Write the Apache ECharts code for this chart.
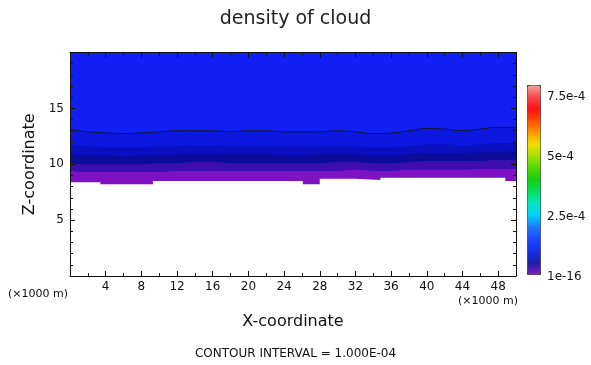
<!DOCTYPE html>
<html>
<head>
<meta charset="utf-8">
<style>
    html, body { margin: 0; padding: 0; background: #fff; }
    #cloudChart { width: 591px; height: 365px; }
</style>
</head>
<body>
<div id="cloudChart"></div>
<script src="https://cdn.jsdelivr.net/npm/echarts@6/dist/echarts.min.js"></script>
<script>
    // x positions of the sampled boundaries (x1000 m)
    var xs = [0, 2, 4, 6, 8, 10, 12, 14, 16, 18, 20, 22, 24, 26, 28, 30, 32, 34, 36, 38, 40, 42, 44, 46, 48, 50]
    // height (x1000 m) of the 1e-4 contour line
    var contourLine = [13.1, 12.9, 12.8, 12.75, 12.8, 12.9, 13.0, 13.0, 13.0, 12.9, 13.0, 13.0, 12.9, 12.9, 12.9, 13.0, 12.9, 12.75, 12.8, 13.0, 13.2, 13.15, 13.0, 13.15, 13.3, 13.3]
    // colour band edges below the contour line
    var edgeB = [11.7, 11.6, 11.5, 11.5, 11.5, 11.6, 11.6, 11.7, 11.7, 11.6, 11.6, 11.6, 11.6, 11.6, 11.6, 11.6, 11.6, 11.5, 11.5, 11.6, 11.8, 11.8, 11.7, 11.8, 11.9, 11.9]
    var edgeC = [10.9, 10.8, 10.8, 10.7, 10.8, 10.8, 10.9, 10.9, 10.9, 10.9, 10.9, 10.9, 10.8, 10.8, 10.9, 10.9, 10.9, 10.8, 10.8, 10.9, 11.0, 11.0, 11.0, 11.1, 11.1, 11.2]
    var edgeD = [10.1, 10.0, 10.0, 10.0, 10.0, 10.1, 10.1, 10.2, 10.2, 10.1, 10.1, 10.1, 10.1, 10.1, 10.1, 10.2, 10.2, 10.1, 10.1, 10.2, 10.3, 10.3, 10.3, 10.3, 10.4, 10.4]
    var edgeE = [9.4, 9.3, 9.3, 9.3, 9.3, 9.3, 9.4, 9.4, 9.4, 9.4, 9.4, 9.4, 9.4, 9.4, 9.4, 9.4, 9.5, 9.4, 9.4, 9.5, 9.5, 9.5, 9.5, 9.6, 9.6, 9.6]
    // cloud base (below it the density is under 1e-16)
    var baseX = [0, 3.4, 3.4, 9.3, 9.3, 26.1, 26.1, 28, 28, 32, 32, 34.8, 34.8, 48.8, 48.8, 50]
    var baseZ = [8.4, 8.4, 8.2, 8.2, 8.5, 8.5, 8.2, 8.2, 8.7, 8.7, 8.6, 8.6, 8.8, 8.8, 8.5, 8.5]
    // colour bar
    var cbTicks = ['1e-16', '2.5e-4', '5e-4', '7.5e-4']
    var cbColors = ['#7e1cc4', '#1c1ca8', '#1430e8', '#1e48ff', '#1e78ff', '#00d0ff', '#00e8c0', '#00e060',
        '#10d010', '#50d800', '#a0e000', '#f0e000', '#ff9a00', '#ff5000', '#ff1010', '#f84848', '#f4a0a0']

    var font = 'DejaVu Sans'

    function band (xArr, zArr, color, isContour, smooth) {
        return {
            type: 'line',
            xAxisIndex: 0,
            yAxisIndex: 0,
            data: xArr.map(function (x, i) { return [x, zArr[i]] }),
            symbol: 'none',
            smooth: smooth,
            silent: true,
            lineStyle: isContour ? { color: '#141438', width: 1 } : { opacity: 0 },
            areaStyle: { origin: 'end', color: color, opacity: 1 }
        }
    }

    var axisCommon = {
        type: 'value',
        z: 5,
        axisLine: { show: true, onZero: false, lineStyle: { color: '#111', width: 1 } },
        axisTick: { show: true, inside: true, length: 5, lineStyle: { color: '#111' } },
        minorTick: { show: true, length: 3, lineStyle: { color: '#111' } },
        splitLine: { show: false },
        minorSplitLine: { show: false }
    }

    function xAx (pos, labels) {
        return Object.assign({}, axisCommon, {
            gridIndex: 0, position: pos, min: 0, max: 50, interval: 4,
            minorTick: Object.assign({}, axisCommon.minorTick, { splitNumber: 2 }),
            axisLabel: { show: labels, showMinLabel: false, showMaxLabel: false, margin: 5, color: '#111', fontFamily: font, fontSize: 12 },
            name: labels ? 'X-coordinate' : '',
            nameLocation: 'middle', nameGap: 38,
            nameTextStyle: { color: '#111', fontFamily: font, fontSize: 16 }
        })
    }

    function yAx (pos, labels) {
        return Object.assign({}, axisCommon, {
            gridIndex: 0, position: pos, min: 0, max: 20, interval: 5,
            minorTick: Object.assign({}, axisCommon.minorTick, { splitNumber: 5 }),
            axisLabel: { show: labels, showMinLabel: false, showMaxLabel: false, margin: 6, color: '#111', fontFamily: font, fontSize: 12 },
            name: labels ? 'Z-coordinate' : '',
            nameLocation: 'middle', nameGap: 30, nameRotate: 90,
            nameTextStyle: { color: '#111', fontFamily: font, fontSize: 16 }
        })
    }

    var myChart = echarts.init(document.getElementById('cloudChart'), null, { renderer: 'canvas' })
    var option = {
        animation: false,
        backgroundColor: '#fff',
        title: {
            text: 'density of cloud',
            left: 'center',
            top: 5,
            textStyle: { fontFamily: font, fontSize: 19, fontWeight: 'normal', color: '#222' }
        },
        grid: [
            { left: 70, top: 52.5, width: 446, height: 223.5 },
            { left: 527, top: 85, width: 13, height: 192 }
        ],
        xAxis: [
            xAx('bottom', true),
            xAx('top', false),
            { type: 'value', gridIndex: 1, show: false, min: 0, max: 1 }
        ],
        yAxis: [
            yAx('left', true),
            yAx('right', false),
            {
                type: 'value', gridIndex: 1, position: 'right', min: 0, max: 8e-4, interval: 2.5e-4,
                axisLine: { show: false }, axisTick: { show: false }, splitLine: { show: false },
                axisLabel: {
                    showMaxLabel: false, margin: 7, color: '#111', fontFamily: font, fontSize: 12,
                    formatter: function (v) { return cbTicks[Math.round(v / 2.5e-4)] || '' }
                }
            }
        ],
        visualMap: {
            type: 'continuous',
            min: 0,
            max: 8e-4,
            seriesIndex: 6,
            calculable: false,
            left: 527,
            top: 85,
            itemWidth: 13,
            itemHeight: 189,
            padding: 0,
            borderColor: '#333',
            borderWidth: 1,
            inRange: { color: cbColors }
        },
        graphic: [
            { type: 'text', left: 8, top: 289, style: { text: '(\u00d71000 m)', fill: '#111', font: '11px "DejaVu Sans"' } },
            { type: 'text', left: 458, top: 296, style: { text: '(\u00d71000 m)', fill: '#111', font: '11px "DejaVu Sans"' } },
            { type: 'text', left: 'center', top: 348, style: { text: 'CONTOUR INTERVAL = 1.000E-04', fill: '#111', font: '12px "DejaVu Sans"' } }
        ],
        series: [
            band(baseX, baseZ, '#7e12c2', false, false),
            band(xs, edgeE, '#3c0eb0', false, 0.4),
            band(xs, edgeD, '#0b0b9c', false, 0.4),
            band(xs, edgeC, '#0a0fc2', false, 0.4),
            band(xs, edgeB, '#0c18e0', false, 0.4),
            band(xs, contourLine, '#1020f4', true, 0.4),
            { type: 'scatter', xAxisIndex: 2, yAxisIndex: 2, data: [] }
        ]
    }
    myChart.setOption(option)
</script>
</body>
</html>
